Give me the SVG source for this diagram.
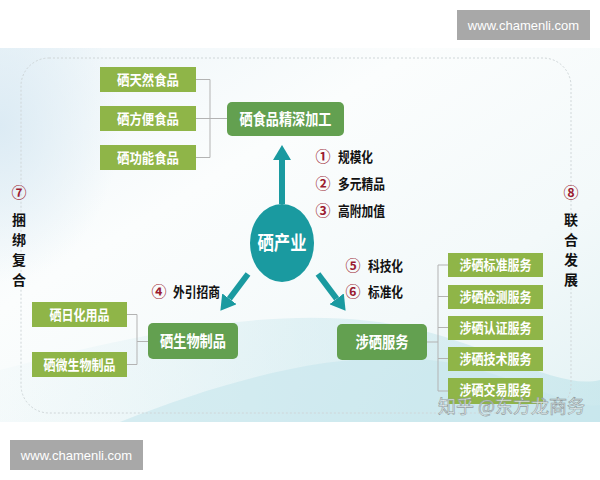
<svg xmlns="http://www.w3.org/2000/svg" width="600" height="480" viewBox="0 0 600 480">
<defs>
<linearGradient id="bg" x1="0" y1="0" x2="1" y2="1">
<stop offset="0" stop-color="#edf5f9"/>
<stop offset="0.35" stop-color="#fbfdfd"/>
<stop offset="0.7" stop-color="#f3f9fa"/>
<stop offset="1" stop-color="#e3f2f4"/>
</linearGradient>
<linearGradient id="wave" x1="0" y1="0" x2="1" y2="0">
<stop offset="0" stop-color="#d9eef2" stop-opacity="0.2"/>
<stop offset="0.5" stop-color="#cbe8ee" stop-opacity="0.8"/>
<stop offset="1" stop-color="#b7e0e7" stop-opacity="0.9"/>
</linearGradient>
<radialGradient id="lefttint" cx="0" cy="0.3" r="0.6">
<stop offset="0" stop-color="#dcebf4"/>
<stop offset="1" stop-color="#dcebf4" stop-opacity="0"/>
</radialGradient>
<marker id="ah" markerUnits="userSpaceOnUse" markerWidth="15" markerHeight="18" viewBox="0 0 15 18" refX="0" refY="9" orient="auto">
<path d="M0,0 L15,9 L0,18 z" fill="#1a9aa0"/>
</marker>
<style>
.lt{fill:#8fb548}
.dk{fill:#63a050}
.bt{font-family:"Noto Sans CJK SC",sans-serif;font-weight:bold;fill:#fff;text-anchor:middle}
.s14{font-size:14px}
.s16{font-size:16px}
.lab{font-family:"Noto Sans CJK SC",sans-serif;font-weight:bold;font-size:14px;fill:#111}
.num{font-family:"Noto Sans CJK SC",sans-serif;font-weight:bold;font-size:15px;fill:#9b1b30;text-anchor:middle}
.br{fill:none;stroke:#b3b3b3;stroke-width:1}
.arr{stroke:#1a9aa0;stroke-width:6;marker-end:url(#ah)}
.wm{fill:#a8a8a8}
.wt{font-family:"Liberation Sans",Arial,sans-serif;font-size:13px;fill:#fff;text-anchor:middle}
</style>
</defs>
<rect width="600" height="480" fill="#fff"/>
<rect x="0" y="48" width="600" height="374" fill="url(#bg)"/>
<rect x="0" y="48" width="200" height="260" fill="url(#lefttint)"/>
<path d="M0,370 C150,330 300,300 420,330 C500,350 560,390 600,380 L600,422 L0,422 z" fill="url(#wave)" opacity="0.6"/>
<path d="M120,422 C250,370 380,340 480,370 C540,388 580,410 600,405 L600,422 z" fill="#c6e6ec" opacity="0.6"/>
<rect x="21" y="58" width="550" height="355" rx="28" fill="none" stroke="#cfd6d8" stroke-width="1" stroke-dasharray="2,2"/>

<g id="connectors">
<path class="br" d="M196,79.5 H210 M196,118.5 H210 M196,157.5 H210 M210,79.5 V157.5 M210,118.5 H227"/>
<path class="br" d="M127,314.5 H137 M127,364.5 H137 M137,314.5 V364.5 M137,341.5 H148"/>
<path class="br" d="M427,342 H438 M438,265 V391 M438,265 H448 M438,296.5 H448 M438,327.5 H448 M438,358.5 H448 M438,391 H448"/>
<line class="arr" x1="282" y1="204" x2="282" y2="160"/>
<line class="arr" x1="248" y1="274" x2="229.4" y2="298.8"/>
<line class="arr" x1="318" y1="274" x2="336.6" y2="298.8"/>
</g>

<g id="n-tianran"><rect class="lt" x="100" y="67" width="96" height="25"/><text class="bt s14" x="148" y="85" textLength="62" lengthAdjust="spacingAndGlyphs">硒天然食品</text></g>
<g id="n-fangbian"><rect class="lt" x="100" y="106" width="96" height="25"/><text class="bt s14" x="148" y="124" textLength="62" lengthAdjust="spacingAndGlyphs">硒方便食品</text></g>
<g id="n-gongneng"><rect class="lt" x="100" y="145" width="96" height="25"/><text class="bt s14" x="148" y="163" textLength="62" lengthAdjust="spacingAndGlyphs">硒功能食品</text></g>
<g id="n-jingshen"><rect class="dk" x="227" y="102" width="117" height="34" rx="5"/><text class="bt s16" x="285.5" y="125" textLength="92" lengthAdjust="spacingAndGlyphs">硒食品精深加工</text></g>

<g id="n-center"><ellipse cx="282" cy="243" rx="32" ry="39" fill="#1a9aa0"/><text class="bt" style="font-size:19px" x="282" y="250" textLength="49" lengthAdjust="spacingAndGlyphs">硒产业</text></g>

<g id="n-rihua"><rect class="lt" x="32" y="302" width="95" height="25"/><text class="bt s14" x="79.5" y="320" textLength="60" lengthAdjust="spacingAndGlyphs">硒日化用品</text></g>
<g id="n-weisheng"><rect class="lt" x="32" y="352" width="95" height="25"/><text class="bt s14" x="79.5" y="370" textLength="72" lengthAdjust="spacingAndGlyphs">硒微生物制品</text></g>
<g id="n-shengwu"><rect class="dk" x="148" y="323" width="90" height="36" rx="5"/><text class="bt s16" x="193" y="347" textLength="66" lengthAdjust="spacingAndGlyphs">硒生物制品</text></g>

<g id="n-fuwu"><rect class="dk" x="337" y="324" width="90" height="36" rx="5"/><text class="bt s16" x="382" y="348" textLength="53" lengthAdjust="spacingAndGlyphs">涉硒服务</text></g>
<g id="n-biaozhun"><rect class="lt" x="448" y="253" width="95" height="24"/><text class="bt s14" x="495.5" y="270" textLength="72" lengthAdjust="spacingAndGlyphs">涉硒标准服务</text></g>
<g id="n-jiance"><rect class="lt" x="448" y="285" width="95" height="24"/><text class="bt s14" x="495.5" y="302" textLength="72" lengthAdjust="spacingAndGlyphs">涉硒检测服务</text></g>
<g id="n-renzheng"><rect class="lt" x="448" y="316" width="95" height="24"/><text class="bt s14" x="495.5" y="333" textLength="72" lengthAdjust="spacingAndGlyphs">涉硒认证服务</text></g>
<g id="n-jishu"><rect class="lt" x="448" y="347" width="95" height="24"/><text class="bt s14" x="495.5" y="364" textLength="72" lengthAdjust="spacingAndGlyphs">涉硒技术服务</text></g>
<g id="n-jiaoyi"><rect class="lt" x="448" y="378" width="95" height="26"/><text class="bt s14" x="495.5" y="395" textLength="72" lengthAdjust="spacingAndGlyphs">涉硒交易服务</text></g>

<g id="labels">
<text class="num" x="323" y="162">①</text><text class="lab" x="338" y="162" textLength="35" lengthAdjust="spacingAndGlyphs">规模化</text>
<text class="num" x="323" y="189">②</text><text class="lab" x="338" y="189" textLength="47" lengthAdjust="spacingAndGlyphs">多元精品</text>
<text class="num" x="323" y="216">③</text><text class="lab" x="338" y="216" textLength="47" lengthAdjust="spacingAndGlyphs">高附加值</text>
<text class="num" x="353" y="271">⑤</text><text class="lab" x="368" y="271" textLength="35" lengthAdjust="spacingAndGlyphs">科技化</text>
<text class="num" x="353" y="297">⑥</text><text class="lab" x="368" y="297" textLength="35" lengthAdjust="spacingAndGlyphs">标准化</text>
<text class="num" x="159" y="297">④</text><text class="lab" x="173" y="297" textLength="47" lengthAdjust="spacingAndGlyphs">外引招商</text>
<text class="num" x="19" y="198">⑦</text>
<text class="lab" x="19" y="225" text-anchor="middle">捆</text>
<text class="lab" x="19" y="245" text-anchor="middle">绑</text>
<text class="lab" x="19" y="265" text-anchor="middle">复</text>
<text class="lab" x="19" y="285" text-anchor="middle">合</text>
<text class="num" x="571" y="198">⑧</text>
<text class="lab" x="571" y="225" text-anchor="middle">联</text>
<text class="lab" x="571" y="245" text-anchor="middle">合</text>
<text class="lab" x="571" y="265" text-anchor="middle">发</text>
<text class="lab" x="571" y="285" text-anchor="middle">展</text>
</g>

<text x="438" y="413" font-family="Noto Sans CJK SC,sans-serif" font-size="18" fill="#eef3f4" fill-opacity="0.85" stroke="#8e9a9c" stroke-width="0.6">知乎 @东方龙商务</text>

<g id="wm-top"><rect class="wm" x="457" y="10" width="133" height="30"/><text class="wt" x="523.5" y="30">www.chamenli.com</text></g>
<g id="wm-bottom"><rect class="wm" x="10" y="440" width="133" height="30"/><text class="wt" x="76.5" y="460">www.chamenli.com</text></g>
</svg>
